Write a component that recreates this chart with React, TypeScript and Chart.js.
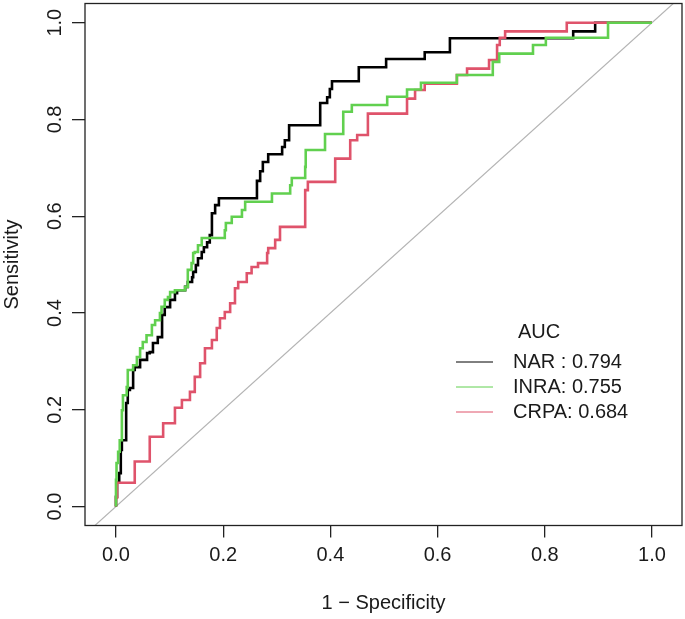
import React, { useEffect, useRef } from "react";
import { Chart, registerables } from "chart.js";

Chart.register(...registerables);

// ---- Data (1 - specificity, sensitivity) ----
const narFpr = [0, 0.002, 0.006, 0.009, 0.011, 0.019, 0.022, 0.026, 0.032, 0.035, 0.045, 0.058, 0.063, 0.069, 0.078, 0.086, 0.091, 0.101, 0.11, 0.114, 0.129, 0.134, 0.142, 0.144, 0.149, 0.153, 0.16, 0.164, 0.17, 0.175, 0.179, 0.179, 0.185, 0.192, 0.192, 0.263, 0.263, 0.269, 0.274, 0.284, 0.284, 0.31, 0.315, 0.323, 0.323, 0.381, 0.381, 0.394, 0.399, 0.403, 0.41, 0.453, 0.453, 0.504, 0.504, 0.576, 0.576, 0.623, 0.623, 0.638, 0.853, 0.853, 0.894, 0.894, 1.0];
const narSens = [0, 0.02, 0.049, 0.069, 0.117, 0.137, 0.214, 0.241, 0.245, 0.282, 0.288, 0.303, 0.317, 0.319, 0.338, 0.35, 0.396, 0.412, 0.427, 0.441, 0.447, 0.454, 0.464, 0.474, 0.485, 0.499, 0.513, 0.526, 0.536, 0.546, 0.561, 0.588, 0.606, 0.623, 0.637, 0.637, 0.654, 0.673, 0.693, 0.712, 0.728, 0.728, 0.743, 0.757, 0.788, 0.788, 0.805, 0.834, 0.846, 0.863, 0.879, 0.879, 0.908, 0.908, 0.925, 0.925, 0.939, 0.939, 0.956, 0.968, 0.968, 0.982, 0.982, 1.0, 1.0];

const inraFpr = [0, 0.001, 0.004, 0.007, 0.011, 0.013, 0.02, 0.022, 0.032, 0.039, 0.045, 0.05, 0.057, 0.067, 0.073, 0.082, 0.085, 0.091, 0.097, 0.101, 0.11, 0.129, 0.134, 0.141, 0.144, 0.147, 0.153, 0.16, 0.162, 0.203, 0.205, 0.216, 0.235, 0.241, 0.246, 0.291, 0.291, 0.325, 0.328, 0.33, 0.353, 0.354, 0.358, 0.39, 0.392, 0.424, 0.424, 0.44, 0.459, 0.506, 0.506, 0.543, 0.543, 0.569, 0.569, 0.636, 0.636, 0.703, 0.703, 0.715, 0.722, 0.778, 0.778, 0.802, 0.802, 0.918, 0.918, 0.933, 1.0];
const inraSens = [0, 0.055, 0.09, 0.113, 0.137, 0.199, 0.23, 0.247, 0.282, 0.292, 0.309, 0.327, 0.34, 0.354, 0.375, 0.385, 0.4, 0.413, 0.427, 0.433, 0.443, 0.447, 0.454, 0.489, 0.503, 0.524, 0.526, 0.54, 0.555, 0.555, 0.571, 0.586, 0.599, 0.613, 0.63, 0.63, 0.647, 0.647, 0.664, 0.679, 0.679, 0.702, 0.737, 0.737, 0.77, 0.77, 0.802, 0.816, 0.83, 0.83, 0.847, 0.847, 0.862, 0.862, 0.876, 0.876, 0.892, 0.892, 0.905, 0.919, 0.936, 0.936, 0.954, 0.954, 0.969, 0.969, 0.985, 1.0, 1.0];

const crpaFpr = [0, 0.002, 0.004, 0.035, 0.035, 0.063, 0.063, 0.069, 0.088, 0.088, 0.11, 0.11, 0.123, 0.138, 0.147, 0.157, 0.166, 0.179, 0.188, 0.194, 0.203, 0.213, 0.222, 0.228, 0.244, 0.253, 0.265, 0.282, 0.284, 0.297, 0.306, 0.315, 0.353, 0.353, 0.358, 0.368, 0.409, 0.409, 0.437, 0.45, 0.453, 0.47, 0.47, 0.489, 0.543, 0.543, 0.558, 0.576, 0.591, 0.636, 0.655, 0.655, 0.696, 0.711, 0.716, 0.726, 0.739, 0.841, 0.841, 1.0];
const crpaSens = [0, 0.018, 0.049, 0.049, 0.093, 0.093, 0.127, 0.144, 0.144, 0.172, 0.172, 0.189, 0.204, 0.22, 0.237, 0.268, 0.296, 0.327, 0.344, 0.369, 0.389, 0.402, 0.42, 0.451, 0.464, 0.482, 0.495, 0.503, 0.524, 0.534, 0.551, 0.578, 0.578, 0.627, 0.654, 0.671, 0.671, 0.702, 0.719, 0.757, 0.768, 0.768, 0.781, 0.812, 0.812, 0.83, 0.843, 0.861, 0.874, 0.874, 0.892, 0.905, 0.905, 0.923, 0.954, 0.969, 0.982, 0.982, 1.0, 1.0];

const chanceLine = [-0.1, 1.1];
const tickValues = [0, 0.2, 0.4, 0.6, 0.8, 1.0];
const seriesNames = ["NAR", "INRA", "CRPA"];
const legendTitle = "AUC";
const legendLabels = ["NAR : 0.794", "INRA: 0.755", "CRPA: 0.684"];
const seriesColors = ["#000000", "#61D04F", "#DF536B"];
const xTitle = "1 \u2212 Specificity";
const yTitle = "Sensitivity";

const FONT = "'Liberation Sans', Arial, Helvetica, sans-serif";
const TEXT = "#1a1a1a";

function pts(xs: number[], ys: number[]) {
  return xs.map((x, i) => ({ x, y: ys[i] }));
}

const overlay = {
  id: "rOverlay",
  afterDraw(chart: any) {
    const { ctx, chartArea } = chart;
    const ys = chart.scales.y;
    ctx.save();
    // box
    ctx.strokeStyle = "#222";
    ctx.lineWidth = 1.3;
    ctx.strokeRect(chartArea.left, chartArea.top, chartArea.right - chartArea.left, chartArea.bottom - chartArea.top);
    // rotated y tick labels
    ctx.fillStyle = TEXT;
    ctx.font = `20px ${FONT}`;
    ctx.textAlign = "center";
    ctx.textBaseline = "middle";
    for (const v of tickValues) {
      const py = ys.getPixelForValue(v);
      ctx.save();
      ctx.translate(chartArea.left - 30, py);
      ctx.rotate(-Math.PI / 2);
      ctx.fillText(v.toFixed(1), 0, 0);
      ctx.restore();
    }
    // legend
    const lx = chartArea.left + 371;
    const tx = chartArea.left + 428;
    const ty0 = 332;
    const dy = 25;
    ctx.textAlign = "left";
    ctx.fillText(legendTitle, tx + 5, ty0);
    legendLabels.forEach((lab, i) => {
      const y = ty0 + dy * (i + 1) + 5;
      ctx.strokeStyle = seriesColors[i];
      ctx.lineWidth = 1;
      ctx.beginPath();
      ctx.moveTo(lx, y);
      ctx.lineTo(lx + 37, y);
      ctx.stroke();
      ctx.fillText(lab, tx, y);
    });
    ctx.restore();
  },
};

export default function App() {
  const ref = useRef<HTMLCanvasElement | null>(null);
  useEffect(() => {
    if (!ref.current) return;
    const curve = (i: number, xs: number[], ys: number[], order: number) => ({
      label: seriesNames[i],
      data: pts(xs, ys),
      showLine: true,
      borderColor: seriesColors[i],
      backgroundColor: seriesColors[i],
      borderWidth: 2.6,
      pointRadius: 0,
      stepped: "after" as const,
      order,
    });
    const chart = new Chart(ref.current, {
      type: "scatter",
      data: {
        datasets: [
          {
            label: "chance",
            data: pts(chanceLine, chanceLine),
            showLine: true,
            borderColor: "#b4b4b4",
            borderWidth: 1.2,
            pointRadius: 0,
            order: 10,
          },
          curve(0, narFpr, narSens, 3),
          curve(2, crpaFpr, crpaSens, 2),
          curve(1, inraFpr, inraSens, 1),
        ],
      },
      options: {
        animation: false,
        responsive: false,
        devicePixelRatio: 1,
        layout: { padding: { top: 3.5, right: 3, left: 0, bottom: 0 } },
        plugins: { legend: { display: false }, tooltip: { enabled: false } },
        scales: {
          x: {
            type: "linear",
            min: -0.0578,
            max: 1.056,
            afterBuildTicks: (s: any) => {
              s.ticks = tickValues.map((v) => ({ value: v }));
            },
            afterFit: (s: any) => {
              s.height = 93.5;
            },
            border: { display: false },
            grid: { drawOnChartArea: false, drawTicks: true, tickLength: 12, color: "#222", lineWidth: 1.3 },
            ticks: {
              autoSkip: false,
              maxRotation: 0,
              minRotation: 0,
              padding: 6,
              color: TEXT,
              font: { family: FONT, size: 20 },
              callback: (v: any) => Number(v).toFixed(1),
            },
            title: {
              display: true,
              text: xTitle,
              color: TEXT,
              font: { family: FONT, size: 20 },
              padding: { top: 0, bottom: 4 },
            },
          },
          y: {
            type: "linear",
            min: -0.0393,
            max: 1.0397,
            afterBuildTicks: (s: any) => {
              s.ticks = tickValues.map((v) => ({ value: v }));
            },
            afterFit: (s: any) => {
              s.width = 85;
            },
            border: { display: false },
            grid: { drawOnChartArea: false, drawTicks: true, tickLength: 13, color: "#222", lineWidth: 1.3 },
            ticks: { display: false },
            title: {
              display: true,
              text: yTitle,
              color: TEXT,
              font: { family: FONT, size: 20 },
              padding: { top: 0, bottom: 0 },
            },
          },
        },
      },
      plugins: [overlay],
    });
    return () => chart.destroy();
  }, []);
  return (
    <canvas
      ref={ref}
      width={685}
      height={619}
      style={{ position: "fixed", left: 0, top: 0, width: 685, height: 619, background: "#fff" }}
    />
  );
}
